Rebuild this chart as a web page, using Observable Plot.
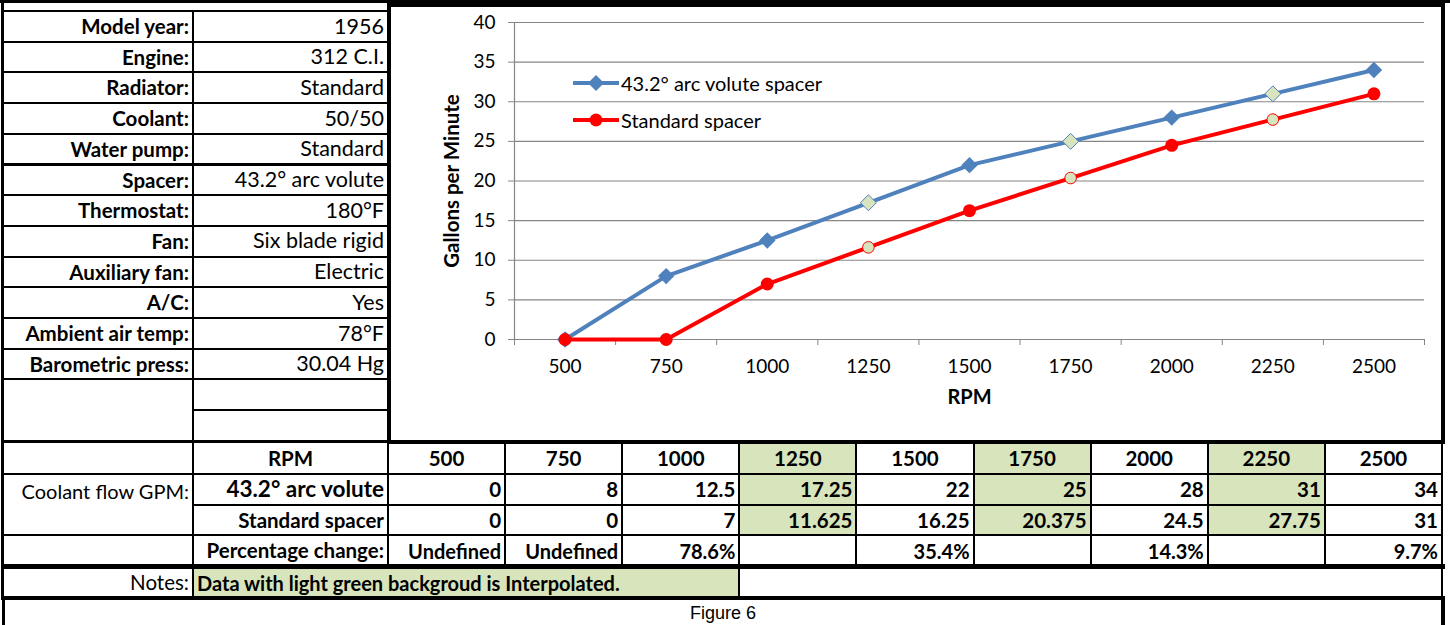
<!DOCTYPE html>
<html><head><meta charset="utf-8">
<script src="https://cdn.jsdelivr.net/npm/d3@7"></script>
<script src="https://cdn.jsdelivr.net/npm/@observablehq/plot@0.6"></script>
<style>
html,body{margin:0;padding:0;background:#fff;}
#root{position:relative;width:1450px;height:625px;overflow:hidden;font-family:Lato,"Open Sans",sans-serif;color:#000;background:#fff;}
.cell{position:absolute;box-sizing:border-box;border:2px solid #000;display:flex;align-items:center;padding:0 3px;white-space:nowrap;font-size:21px;line-height:1;}
.bar{position:absolute;background:#000;}
#chartbox{position:absolute;left:387px;top:3px;width:1058px;height:441px;box-sizing:border-box;border:4px solid #000;background:#fff;}
.leg{position:absolute;display:flex;align-items:center;font-size:20px;font-family:Lato,sans-serif;white-space:nowrap;}
</style></head>
<body><div id="root"></div>
<script>
// ---- data ----
const specLabels = ["Model year:", "Engine:", "Radiator:", "Coolant:", "Water pump:", "Spacer:", "Thermostat:", "Fan:", "Auxiliary fan:", "A/C:", "Ambient air temp:", "Barometric press:"];
const specValues = ["1956", "312 C.I.", "Standard", "50/50", "Standard", "43.2° arc volute", "180°F", "Six blade rigid", "Electric", "Yes", "78°F", "30.04 Hg"];
const rpm = [500, 750, 1000, 1250, 1500, 1750, 2000, 2250, 2500];
const arcVolute = [0, 8, 12.5, 17.25, 22, 25, 28, 31, 34];
const standardSpacer = [0, 0, 7, 11.625, 16.25, 20.375, 24.5, 27.75, 31];
const interpolated = [false, false, false, true, false, true, false, true, false];
const pctChange = ["Undefined", "Undefined", "78.6%", "", "35.4%", "", "14.3%", "", "9.7%"];
const yTicks = [0, 5, 10, 15, 20, 25, 30, 35, 40];
const seriesNames = ["43.2° arc volute spacer", "Standard spacer"];
const rowNames = ["RPM", "43.2° arc volute", "Standard spacer", "Percentage change:"];
const groupLabel = "Coolant flow GPM:";
const notesLabel = "Notes:";
const notesText = "Data with light green backgroud is Interpolated.";
const figureCaption = "Figure 6";
const blue = "#4F81BD", red = "#FF0000", green = "#D7E4BC";

const root = document.getElementById("root");
function cell(x, y, w, h, text, o = {}) {
  const d = document.createElement("div");
  d.className = "cell";
  Object.assign(d.style, {
    left: x + "px", top: y + "px", width: (w + 2) + "px", height: (h + 2) + "px",
    justifyContent: o.align || "flex-end",
    fontWeight: o.bold ? "700" : "400",
    background: o.bg || "#fff",
    alignItems: o.valign || "center",
    paddingTop: o.pt || "0px"
  });
  d.style.fontSize = (o.size || (o.bold ? 20.5 : 21)) + "px";
  d.textContent = text;
  root.appendChild(d);
  return d;
}
function bar(x, y, w, h) {
  const d = document.createElement("div");
  d.className = "bar";
  Object.assign(d.style, {left: x + "px", top: y + "px", width: w + "px", height: h + "px"});
  root.appendChild(d);
}

// ---- left spec table ----
const c0 = 2, c1 = 192, c2 = 387, rowH = 30.7, top0 = 10;
specLabels.forEach((lab, i) => {
  const y = top0 + i * rowH;
  cell(c0, y, c1 - c0, rowH, lab, {bold: true});
  cell(c1, y, c2 - c1, rowH, specValues[i], {size: 21.5});
});
cell(c0, top0 + 12 * rowH, c1 - c0, 2 * rowH, "");
cell(c1, top0 + 12 * rowH, c2 - c1, rowH, "");
cell(c1, top0 + 13 * rowH, c2 - c1, rowH, "");

// ---- bottom table ----
const colW = (1441 - 387) / rpm.length;
const rowsY = [441, 473, 504, 534, 565];
const rh = i => rowsY[i + 1] - rowsY[i];
cell(c0, rowsY[0], c1 - c0, rh(0), "");
cell(c0, rowsY[1], c1 - c0, rh(1) + rh(2), groupLabel, {valign: "flex-start", pt: "6px", size: 20});
cell(c0, rowsY[3], c1 - c0, rh(3), "");
rowNames.forEach((n, r) => cell(c1, rowsY[r], c2 - c1, rh(r), n, {bold: true, align: r === 0 ? "center" : "flex-end", size: r === 1 ? 22.5 : 20.5}));
rpm.forEach((v, i) => {
  const x = c2 + i * colW;
  const bg = interpolated[i] ? green : "#fff";
  cell(x, rowsY[0], colW, rh(0), String(v), {bold: true, align: "center", bg});
  cell(x, rowsY[1], colW, rh(1), String(arcVolute[i]), {bold: true, bg});
  cell(x, rowsY[2], colW, rh(2), String(standardSpacer[i]), {bold: true, bg});
  cell(x, rowsY[3], colW, rh(3), pctChange[i], {bold: true, size: 20});
});
// notes row
bar(2, 564, 1443, 5);
cell(c0, 567, c1 - c0, 29, notesLabel, {size: 20.5});
cell(c1, 567, c2 + 3 * colW - c1, 29, notesText, {bold: true, align: "flex-start", bg: green, size: 20});
cell(c2 + 3 * colW, 567, 1441 - (c2 + 3 * colW), 29, "");
bar(2, 596, 1443, 4);
// figure row
const fig = document.createElement("div");
Object.assign(fig.style, {position: "absolute", left: "2px", top: "598px", width: "1443px", height: "30px", boxSizing: "border-box", borderLeft: "3px solid #000", borderRight: "4px solid #000", textAlign: "center", fontFamily: "'Liberation Sans', Arial, sans-serif", fontSize: "18px", paddingTop: "5px"});
fig.textContent = figureCaption;
root.appendChild(fig);
// outer frame pieces
bar(0, 0, 1450, 3);
bar(1, 0, 3, 600);

// ---- chart ----
const box = document.createElement("div");
box.id = "chartbox";
root.appendChild(box);

const half = (rpm[1] - rpm[0]) / 2;
const bounds = [...rpm.map(r => r - half), rpm[rpm.length - 1] + half];
const arcData = rpm.map((r, i) => ({rpm: r, gpm: arcVolute[i], interp: interpolated[i]}));
const stdData = rpm.map((r, i) => ({rpm: r, gpm: standardSpacer[i], interp: interpolated[i]}));

const chart = Plot.plot({
  width: 1050, height: 433,
  marginLeft: 123, marginRight: 17, marginTop: 15, marginBottom: 101,
  style: {fontFamily: "Lato, sans-serif", fontSize: "19px", color: "#868686", background: "transparent", overflow: "visible"},
  x: {type: "linear", domain: [bounds[0], bounds[bounds.length - 1]], ticks: bounds, tickSize: 6, tickFormat: () => "", label: null},
  y: {domain: [0, 40], ticks: yTicks, tickSize: 6, tickFormat: () => "", label: null},
  marks: [
    Plot.ruleY(yTicks, {stroke: "#868686", strokeWidth: 1.2}),
    Plot.ruleX([bounds[0]], {stroke: "#868686", strokeWidth: 1.2}),
    Plot.text(yTicks, {y: d => d, frameAnchor: "left", dx: -19, textAnchor: "end", fill: "#000", text: d => String(d), fontSize: 19}),
    Plot.text(rpm, {x: d => d, frameAnchor: "bottom", dy: 33, textAnchor: "middle", fill: "#000", text: d => String(d), fontSize: 19}),
    Plot.text(["Gallons per Minute"], {frameAnchor: "left", dx: -62, rotate: -90, textAnchor: "middle", fontWeight: "bold", fill: "#000", text: d => d, fontSize: 20.5}),
    Plot.text(["RPM"], {frameAnchor: "bottom", dy: 64, textAnchor: "middle", fontWeight: "bold", fill: "#000", text: d => d, fontSize: 20}),
    Plot.line(arcData, {x: "rpm", y: "gpm", stroke: blue, strokeWidth: 4}),
    Plot.dot(arcData.filter(d => !d.interp), {x: "rpm", y: "gpm", symbol: "diamond2", r: 7.4, fill: blue, stroke: "none"}),
    Plot.dot(arcData.filter(d => d.interp), {x: "rpm", y: "gpm", symbol: "diamond2", r: 7.2, fill: "#D7E4BD", stroke: blue, strokeWidth: 1}),
    Plot.line(stdData, {x: "rpm", y: "gpm", stroke: red, strokeWidth: 4}),
    Plot.dot(stdData.filter(d => !d.interp), {x: "rpm", y: "gpm", r: 6.5, fill: red, stroke: "none"}),
    Plot.dot(stdData.filter(d => d.interp), {x: "rpm", y: "gpm", r: 5.8, fill: "#D7E4BD", stroke: red, strokeWidth: 1})
  ]
});
box.appendChild(chart);

// ---- legend (inside plot area) ----
const legendItems = [
  {name: seriesNames[0], color: blue, shape: "diamond", top: 72},
  {name: seriesNames[1], color: red, shape: "circle", top: 109}
];
legendItems.forEach(it => {
  const d = document.createElement("div");
  d.className = "leg";
  Object.assign(d.style, {left: "572px", top: it.top + "px", height: "22px"});
  const sym = it.shape === "diamond"
    ? `<path d="M24,3 L32,11 L24,19 L16,11 Z" fill="${it.color}"/>`
    : `<circle cx="24" cy="11" r="6.5" fill="${it.color}"/>`;
  d.innerHTML = `<svg width="48" height="22" style="display:block"><line x1="1" x2="47" y1="11" y2="11" stroke="${it.color}" stroke-width="4"/>${sym}</svg><span style="margin-left:1px">${it.name}</span>`;
  root.appendChild(d);
});
</script>
</body></html>
